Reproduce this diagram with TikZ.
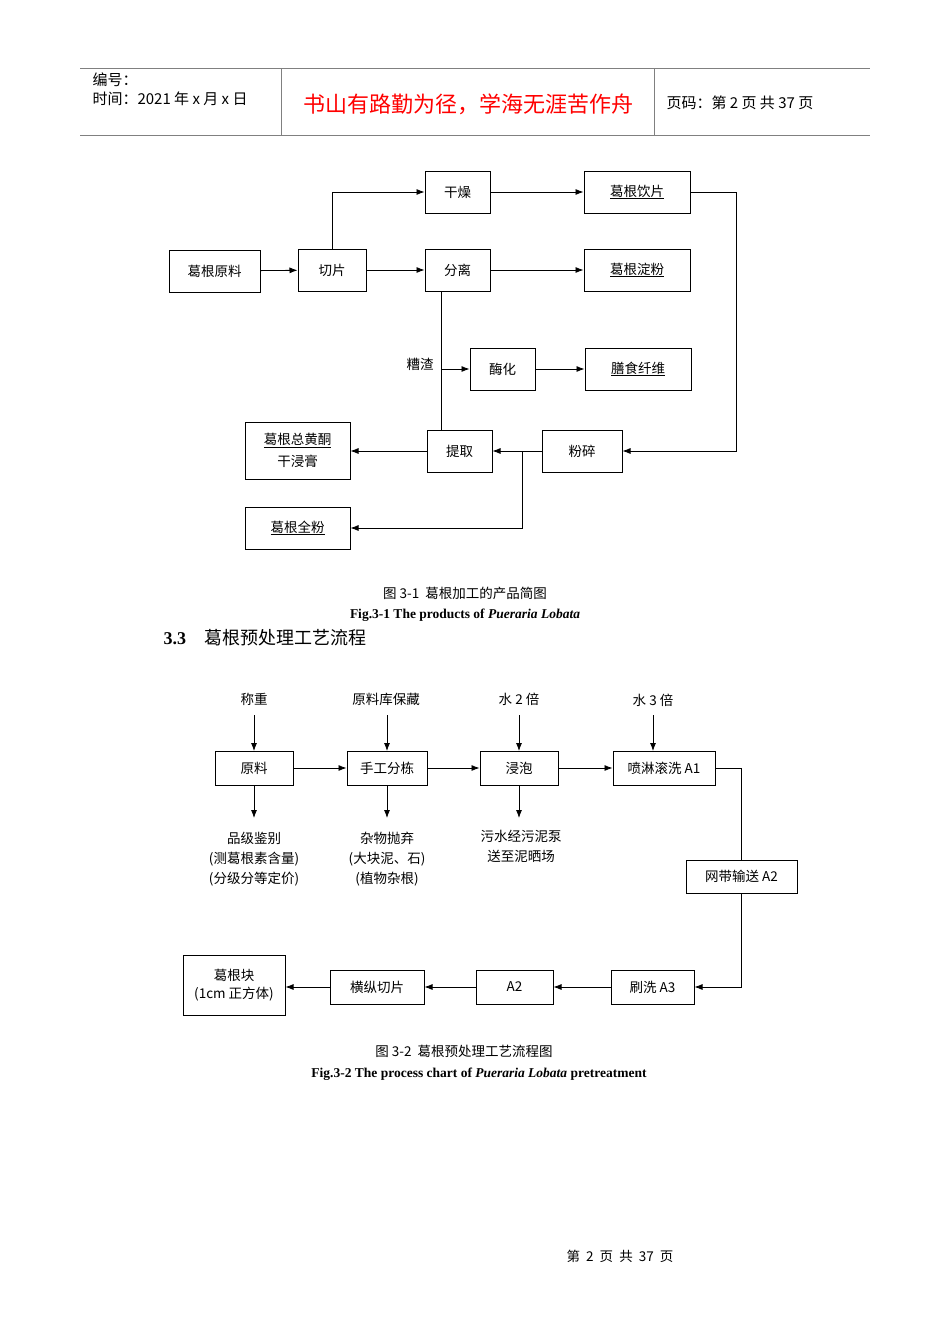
\documentclass[tikz,border=0pt]{standalone}
\usepackage{fontspec}
\setmainfont{Noto Sans CJK SC}
\newfontfamily\lat{Liberation Serif}
\usetikzlibrary{arrows.meta}
\begin{document}
\begin{tikzpicture}[x=1pt,y=-1pt,
 bx/.style={draw,line width=1pt,fill=white,inner sep=0pt,font=\fontsize{13.5}{15}\selectfont},
 ar/.style={-{Latex[length=8pt,width=6pt]},line width=0.8pt},
 ln/.style={line width=0.8pt},
 tx/.style={font=\fontsize{13.5}{15}\selectfont,align=center,inner sep=0pt}]
\useasboundingbox (0,0) rectangle (950,1344);
% header
\draw[gray,thick] (80,68)--(870,68) (80,135)--(870,135);
\draw[gray] (281,68)--(281,135) (654,68)--(654,135);
\node[anchor=west,font=\fontsize{15}{17}\selectfont] (h1) at (89,80) {编号：};
\node[anchor=west,font=\fontsize{15}{17}\selectfont] (h2) at (89,99) {时间：2021 年 x 月 x 日};
\node[text=red,font=\fontsize{22}{24}\selectfont] (h3) at (468,104) {书山有路勤为径，学海无涯苦作舟};
\node[anchor=west,font=\fontsize{15}{17}\selectfont] (h4) at (663,103) {页码：第 2 页 共 37 页};
% diagram 1
\newcommand{\B}[6]{\node[bx,minimum width=#4-#2,minimum height=#5-#3] (#1) at ({(#2+#4)/2},{(#3+#5)/2}) {#6};}
\B{yl}{169}{250}{260}{292}{葛根原料}
\B{qp}{298}{249}{366}{291}{切片}
\B{gz}{425}{171}{490}{213}{干燥}
\B{fl}{425}{249}{490}{291}{分离}
\B{yp}{584}{171}{690}{213}{\underline{葛根饮片}}
\B{df}{584}{249}{690}{291}{\underline{葛根淀粉}}
\B{mh}{470}{348}{535}{390}{酶化}
\B{xw}{585}{348}{691}{390}{\underline{膳食纤维}}
\B{tq}{427}{430}{492}{472}{提取}
\B{fs}{542}{430}{622}{472}{粉碎}
\B{hf}{245}{422}{350}{479}{\shortstack{\underline{葛根总黄酮}\\[4pt]干浸膏}}
\B{qf}{245}{507}{350}{549}{\underline{葛根全粉}}
\draw[ar] (yl)--(qp);
\draw[ar] (qp)--(fl);
\draw[ar] (qp.north)|-(gz.west);
\draw[ar] (gz)--(yp);
\draw[ar] (fl)--(df);
\draw[ar] (mh)--(xw);
\draw[ln] (441,291)--(441,430);
\coordinate (zz) at (441,369);
\draw[ar] (zz)--(mh.west|-zz);
\node[tx] (zl) at (420,364) {糟渣};
\draw[ar] (yp.east)-|(736,451)--(fs.east);
\draw[ar] (fs)--(tq);
\draw[ar] (tq)--(hf.east|-tq);
\coordinate (br) at (522,451);
\draw[ar] (br)--(522,528)--(qf.east|-0,528);
\node[tx] (c1) at (465,593) {图 3-1\ \ 葛根加工的产品简图};
\node[tx,font=\lat\bfseries\fontsize{13.5}{15}\selectfont] (c2) at (465,615) {Fig.3-1 The products of \textit{Pueraria Lobata}};
\node[anchor=west,font=\fontsize{18}{20}\selectfont] (s33) at (160,638) {{\lat\bfseries 3.3}\quad 葛根预处理工艺流程};
% diagram 2
\node[tx] (t1) at (254,699) {称重};
\node[tx] (t2) at (386,699) {原料库保藏};
\node[tx] (t3) at (519,699) {水 2 倍};
\node[tx] (t4) at (653,700) {水 3 倍};
\B{r1}{215}{751}{293}{785}{原料}
\B{r2}{347}{751}{427}{785}{手工分栋}
\B{r3}{480}{751}{558}{785}{浸泡}
\B{r4}{613}{751}{715}{785}{喷淋滚洗 A1}
\B{r5}{686}{860}{797}{893}{网带输送 A2}
\B{r6}{611}{970}{694}{1004}{刷洗 A3}
\B{r7}{476}{970}{553}{1004}{A2}
\B{r8}{330}{970}{424}{1004}{横纵切片}
\B{r9}{183}{955}{285}{1015}{\shortstack{葛根块\\[3pt](1cm 正方体)}}
\draw[ar] (254,715)--(254,751);
\draw[ar] (387,715)--(387,751);
\draw[ar] (519,715)--(519,751);
\draw[ar] (653,715)--(653,751);
\draw[ar] (r1)--(r2); \draw[ar] (r2)--(r3); \draw[ar] (r3)--(r4);
\node[tx] (b1) at (254,859) {品级鉴别\\[5pt](测葛根素含量)\\[5pt](分级分等定价)};
\node[tx] (b2) at (387,859) {杂物抛弃\\[5pt](大块泥、石)\\[5pt](植物杂根)};
\node[tx] (b3) at (521,846) {污水经污泥泵\\[5pt]送至泥晒场};
\draw[ar] (254,785)--(254,818);
\draw[ar] (387,785)--(387,818);
\draw[ar] (519,785)--(519,818);
\draw[ln] (r4.east)-|(r5.north);
\draw[ar] (r5.south)|-(r6.east);
\draw[ar] (r6)--(r7); \draw[ar] (r7)--(r8); \draw[ar] (r8)--(r9.east|-r8);
\node[tx] (c3) at (464,1051) {图 3-2\ \ 葛根预处理工艺流程图};
\node[tx,font=\lat\bfseries\fontsize{13.5}{15}\selectfont] (c4) at (479,1074) {Fig.3-2 The process chart of \textit{Pueraria Lobata} pretreatment};
\node[tx] (ft) at (620,1256) {第\ \ 2\ \ 页\ \ 共\ \ 37\ \ 页};
\end{tikzpicture}
\end{document}
